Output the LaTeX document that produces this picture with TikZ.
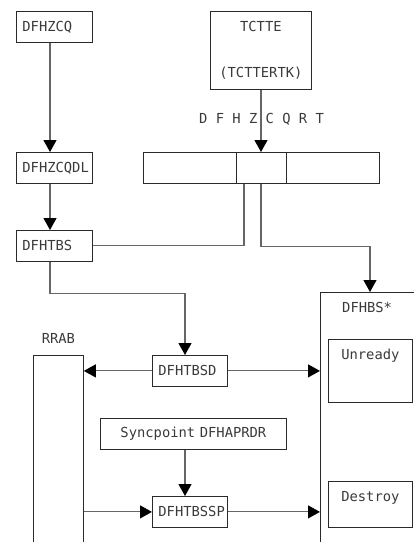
\documentclass[tikz,border=0pt]{standalone}
\usepackage{fontspec}
\setmonofont{DejaVu Sans Mono}
\usetikzlibrary{arrows.meta}
\newcommand\boxfont{\ttfamily\fontsize{13.8}{16}\selectfont}
\definecolor{boxline}{HTML}{2A2A2A}
\definecolor{connline}{HTML}{666666}
\definecolor{txt}{HTML}{3A3A3A}
\begin{document}
\begin{tikzpicture}[x=1pt,y=-1pt,
  box/.style={draw=boxline, line width=0.8pt, inner xsep=6pt, inner ysep=0pt,
    anchor=north west, font=\boxfont, text=txt, align=left},
  frame/.style={draw=boxline, line width=0.8pt, inner sep=0pt, anchor=north west},
  lbl/.style={font=\boxfont, text=txt, inner sep=0pt},
  conn/.style={draw=connline, line width=1.1pt},
  tip/.style={conn, -{Triangle[width=13pt,length=12pt,color=black]}}]
\useasboundingbox (0,0) rectangle (414,542);
\clip (0,0) rectangle (414,542);

% left column of control blocks
\node[box, text width=64pt, minimum height=31pt] (zcq)   at (16,11)  {DFHZCQ};
\node[box, text width=64pt, minimum height=31pt] (zcqdl) at (16,152) {DFHZCQDL};
\node[box, text width=64pt, minimum height=31pt] (tbs)   at (16,230) {DFHTBS};

% terminal control table entry
\node[frame, minimum width=101pt, minimum height=78pt] (tctte) at (210,11) {};
\node[lbl, anchor=base] (tctten) at ([yshift=-20pt]tctte.north) {TCTTE};
\node[lbl, anchor=base] (tctterk) at ([yshift=-66pt]tctte.north) {(TCTTERTK)};

% DFHZCQRT record
\node[lbl, anchor=base west] (rtlabel) at (199,123) {D F H Z C Q R T};
\node[frame, minimum width=236pt, minimum height=31pt] (table) at (143,152) {};
\draw[boxline, line width=0.8pt]
  ([xshift=93pt]table.north west) -- ([xshift=93pt]table.south west)
  ([xshift=143pt]table.north west) -- ([xshift=143pt]table.south west);

% bind-state area
\node[frame, minimum width=120pt, minimum height=280pt] (dfhbs) at (320,292) {};
\node[lbl, anchor=base west] (bsname) at ([xshift=22pt,yshift=-20pt]dfhbs.north west) {DFHBS*};
\node[frame, minimum width=84pt, minimum height=63pt] (unready) at (328,339) {};
\node[lbl, anchor=base] (unreadyt) at ([yshift=-20pt]unready.north) {Unready};
\node[frame, minimum width=84pt, minimum height=46pt] (destroy) at (328,481) {};
\node[lbl, anchor=base] (destroyt) at ([yshift=-20pt]destroy.north) {Destroy};

% recovery area
\node[frame, minimum width=50pt, minimum height=220pt] (rrab) at (33,355) {};
\node[lbl, anchor=base] (rrabt) at ([yshift=12pt]rrab.north) {RRAB};

% bind-state modules
\node[box, text width=63pt, minimum height=31pt] (tbsd)  at (152,355) {DFHTBSD};
\node[box, text width=174pt, minimum height=31pt, align=center] (sync) at (100,418) {Syncpoint DFHAPRDR};
\node[box, text width=63pt, minimum height=31pt] (tbssp) at (152,496) {DFHTBSSP};

% connectors
\draw[tip] ([xshift=34pt]zcq.south west) -- ([xshift=34pt]zcqdl.north west);
\draw[tip] ([xshift=34pt]zcqdl.south west) -- ([xshift=34pt]tbs.north west);
\draw[tip] ([xshift=51pt]tctte.south west) -- ([xshift=118pt]table.north west);
\draw[conn] ([xshift=101pt]table.south west) |- (tbs.east);
\draw[tip] ([xshift=118pt]table.south west) -- ++(0,63) -| ([xshift=50pt]dfhbs.north west);
\draw[tip] ([xshift=34pt]tbs.south west) -- ++(0,32) -| ([xshift=33pt]tbsd.north west);
\draw[tip] (tbsd.west) -- (tbsd.west -| rrab.east);
\draw[tip] (tbsd.east) -- (tbsd.east -| dfhbs.west);
\draw[tip] ([xshift=85pt]sync.south west) -- ([xshift=33pt]tbssp.north west);
\draw[tip] (tbssp.west -| rrab.east) -- (tbssp.west);
\draw[tip] (tbssp.east) -- (tbssp.east -| dfhbs.west);
\end{tikzpicture}
\end{document}
